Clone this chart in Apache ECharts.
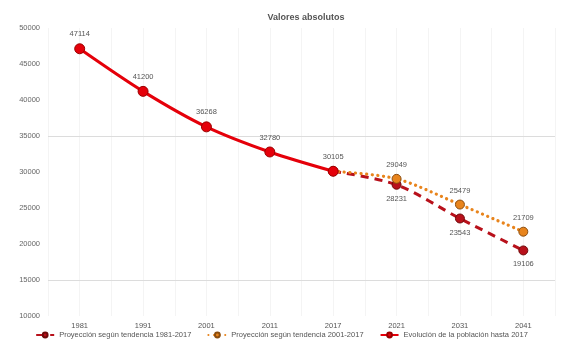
<!DOCTYPE html>
<html>
<head>
<meta charset="utf-8">
<script src="https://cdn.jsdelivr.net/npm/echarts@6/dist/echarts.min.js"></script>
<style>html,body{margin:0;padding:0;background:#fff}#c{width:563px;height:347px}</style>
</head>
<body>
<div id="c"></div>
<script>
const categories = ['1981','1991','2001','2011','2017','2021','2031','2041'];
const evolucion = [47114, 41200, 36268, 32780, 30105, null, null, null];
const proy1981 = [null, null, null, null, 30105, 28231, 23543, 19106];
const proy2001 = [null, null, null, null, 30105, 29049, 25479, 21709];
const yTicks = [10000, 15000, 20000, 25000, 30000, 35000, 40000, 45000, 50000];
const refLines = [35000, 15000];

const chart = echarts.init(document.getElementById('c'), null, {renderer:'canvas'});
const lblStyle = {fontSize: 7.5, color: '#555', fontFamily: 'Liberation Sans'};
chart.setOption({
  animation: false,
  title: {text: 'Valores absolutos', left: 301, top: 8, textAlign: 'center',
    textStyle: {fontSize: 9, fontWeight: 'bold', color: '#555', fontFamily: 'Liberation Sans'}},
  grid: {left: 48, right: 8, top: 28, bottom: 31, containLabel: false},
  legend: {bottom: 3, left: 'center', itemWidth: 18, itemHeight: 6, itemGap: 16,
    textStyle: {fontSize: 7.5, color: '#555', fontFamily: 'Liberation Sans'},
    data: ['Proyección según tendencia 1981-2017','Proyección según tendencia 2001-2017','Evolución de la población hasta 2017']},
  xAxis: [
    {type: 'category', data: categories, boundaryGap: true,
     axisLine: {show: false}, axisTick: {show: false}, splitLine: {show: false},
     axisLabel: {fontSize: 7.5, color: '#555', margin: 6, fontFamily: 'Liberation Sans'}},
    {type: 'value', min: -0.5, max: 7.5, interval: 0.5, show: true,
     axisLine: {show: false}, axisTick: {show: false}, axisLabel: {show: false},
     splitLine: {show: true, lineStyle: {color: '#f4f4f4', width: 1}}}
  ],
  yAxis: {type: 'value', min: yTicks[0], max: yTicks[yTicks.length-1], interval: 5000,
    axisLine: {show: false}, axisTick: {show: false}, splitLine: {show: false},
    axisLabel: {fontSize: 7.5, color: '#666', margin: 8, fontFamily: 'Liberation Sans',
      formatter: v => String(v)}},
  series: [
    {name: 'Proyección según tendencia 1981-2017', type: 'line', data: proy1981, smooth: 0.3,
     connectNulls: false, symbol: 'circle', symbolSize: 9, z: 3,
     lineStyle: {color: '#b8111b', width: 3, type: [8, 6]},
     itemStyle: {color: '#b8111b', borderColor: '#6e0a0a', borderWidth: 1},
     label: {show: true, position: 'bottom', distance: 5, ...lblStyle,
       formatter: p => p.dataIndex === 4 ? '' : String(p.value)}},
    {name: 'Proyección según tendencia 2001-2017', type: 'line', data: proy2001, smooth: 0.3,
     symbol: 'circle', symbolSize: 9, z: 4,
     lineStyle: {color: '#e8841c', width: 3.2, type: [0.1, 5.5], cap: 'round'},
     itemStyle: {color: '#e8841c', borderColor: '#8a4d10', borderWidth: 1},
     label: {show: true, position: 'top', distance: 5, ...lblStyle,
       formatter: p => p.dataIndex === 4 ? '' : String(p.value)}},
    {name: 'Evolución de la población hasta 2017', type: 'line', data: evolucion, smooth: 0.3,
     symbol: 'circle', symbolSize: 10, z: 5,
     lineStyle: {color: '#e5000a', width: 3},
     itemStyle: {color: '#e5000a', borderColor: '#990000', borderWidth: 1},
     label: {show: true, position: 'top', distance: 5, ...lblStyle},
     markLine: {silent: true, symbol: 'none', label: {show: false},
       lineStyle: {color: '#dcdcdc', width: 1, type: 'solid'},
       data: refLines.map(v => ({yAxis: v}))}}
  ]
});
</script>
</body>
</html>
